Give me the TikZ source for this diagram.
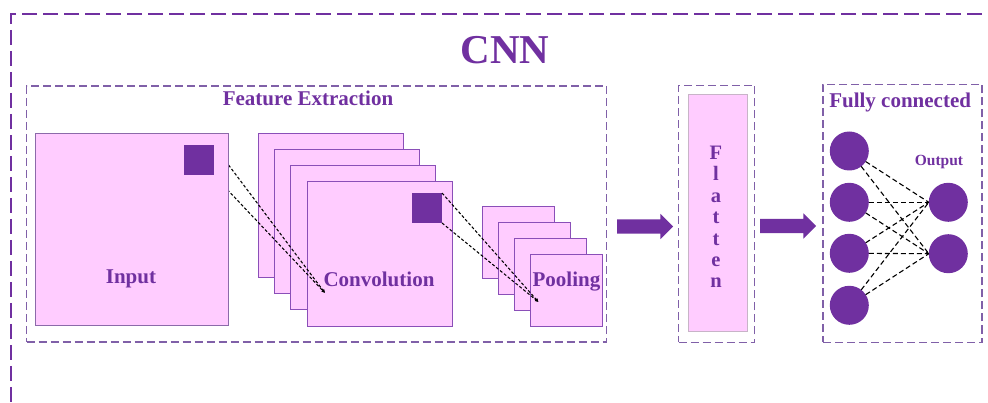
\documentclass[tikz,border=0pt]{standalone}
\usepackage{fontspec}
\setmainfont{Liberation Serif}
\usetikzlibrary{arrows.meta,shapes.arrows}

\definecolor{cnnpurple}{HTML}{7030A0}
\definecolor{mapfill}{HTML}{FFCCFF}
\definecolor{mapedge}{HTML}{8A4FB8}
\definecolor{inputedge}{HTML}{8C6AAA}
\definecolor{boxdash}{HTML}{8060A8}
\definecolor{flatedge}{HTML}{C8B4C8}

\pgfdeclarelayer{front}
\pgfsetlayers{main,front}

\begin{document}
\begin{tikzpicture}[x=1pt,y=-1pt,
  every node/.style={inner sep=0pt, outer sep=0pt},
  frame/.style={draw=cnnpurple, line width=2pt, dash pattern=on 15pt off 6pt},
  groupbox/.style={draw=boxdash, line width=1.4pt, dash pattern=on 8pt off 4pt, anchor=north west},
  fmap/.style={draw=mapedge, fill=mapfill, line width=1pt, anchor=north west},
  kernel/.style={fill=cnnpurple, anchor=north west, minimum size=30pt},
  lbl/.style={text=cnnpurple, font=\bfseries\fontsize{21}{21}\selectfont, anchor=base},
  flatletter/.style={text=cnnpurple, font=\bfseries\fontsize{20.5}{20.5}\selectfont, anchor=base},
  link/.style={draw=black, line width=1.05pt, dash pattern=on 3pt off 2pt, -{Latex[length=3.5pt,width=3.5pt]}},
  neuron/.style={circle, fill=cnnpurple, minimum size=39pt},
  wire/.style={draw=black, line width=1.1pt, dash pattern=on 5pt off 3pt},
  bigarrow/.style={single arrow, fill=cnnpurple, inner xsep=0pt, inner ysep=7pt, anchor=tail,
    single arrow head extend=5.5pt, single arrow head indent=0pt, minimum height=56pt}
]
\clip (0,0) rectangle (988,403);

% outer frame and title
\node[frame, anchor=north west, minimum width=1000pt, minimum height=420pt] (cnnframe) at (11,14) {};
\node[text=cnnpurple, font=\bfseries\fontsize{41}{41}\selectfont, anchor=base] (title) at (505,63.5) {CNN};

% feature extraction group
\node[groupbox, minimum width=580pt, minimum height=256pt] (fe) at (26.5,86) {};
\node[lbl] (felbl) at (308,106) {Feature Extraction};

% convolution feature maps
\node[fmap, minimum width=145pt, minimum height=144pt] (conv1) at (258.5,134) {};
\node[fmap, minimum width=145pt, minimum height=144pt] (conv2) at (274.5,150) {};
\node[fmap, minimum width=145pt, minimum height=144pt] (conv3) at (290.5,166) {};
\node[fmap, minimum width=145pt, minimum height=145pt] (conv4) at (307.5,182) {};
\node[kernel] (k2) at (412,193) {};
\node[lbl] (convlbl) at (379,286.5) {Convolution};

% pooling feature maps
\node[fmap, minimum width=72pt, minimum height=72pt] (pool1) at (482.5,206.5) {};
\node[fmap, minimum width=72pt, minimum height=72pt] (pool2) at (498.5,222.5) {};
\node[fmap, minimum width=72pt, minimum height=72pt] (pool3) at (514.5,238.5) {};
\node[fmap, minimum width=72pt, minimum height=72pt] (pool4) at (530.5,254.5) {};
\node[lbl] (poollbl) at (566.5,286.5) {Pooling};

% input image (kept above its projection lines)
\begin{pgfonlayer}{front}
\node[fmap, draw=inputedge, minimum width=193pt, minimum height=192pt] (input) at (35,133.5) {};
\node[kernel] (k1) at (183.5,145) {};
\node[lbl] (inlbl) at (131,283.3) {Input};
\end{pgfonlayer}

% receptive field projections
\coordinate (convtip) at (325,293);
\coordinate (pooltip) at (538.5,302);
\draw[link] (k1.north east) -- (convtip);
\draw[link] (k1.south east) -- (convtip);
\draw[link] (k2.north east) -- (pooltip);
\draw[link] (k2.south east) -- (pooltip);

% flatten stage
\node[bigarrow] (arr1) at (617,226.5) {};
\node[groupbox, minimum width=76pt, minimum height=257pt] (flatbox) at (678.5,85.5) {};
\node[draw=flatedge, fill=mapfill, line width=0.8pt, anchor=north west,
      minimum width=59pt, minimum height=237pt] (flat) at (688.5,94.5) {};
\foreach \ch [count=\i] in {F,l,a,t,t,e,n}
  \node[flatletter] (fl\i) at (716,159.5+21.4*\i-21.4) {\ch};

% fully connected stage
\node[bigarrow] (arr2) at (760,226) {};
\node[groupbox, minimum width=159pt, minimum height=258pt] (fc) at (823,84.5) {};
\node[lbl, anchor=base west] (fclbl) at (829.3,107.5) {Fully connected};
\node[text=cnnpurple, font=\bfseries\fontsize{15.5}{15.5}\selectfont, anchor=base] (outlbl) at (939,166) {Output};

\node[neuron] (in1) at (849.3,151) {};
\node[neuron] (in2) at (849.3,202.3) {};
\node[neuron] (in3) at (849.3,253.3) {};
\node[neuron] (in4) at (849.3,305.3) {};
\node[neuron] (out1) at (948.3,202.3) {};
\node[neuron] (out2) at (948.3,253.7) {};
\foreach \a in {1,...,4}
  \foreach \b in {1,2}
    \draw[wire] (in\a) -- (out\b.west);
\end{tikzpicture}
\end{document}
